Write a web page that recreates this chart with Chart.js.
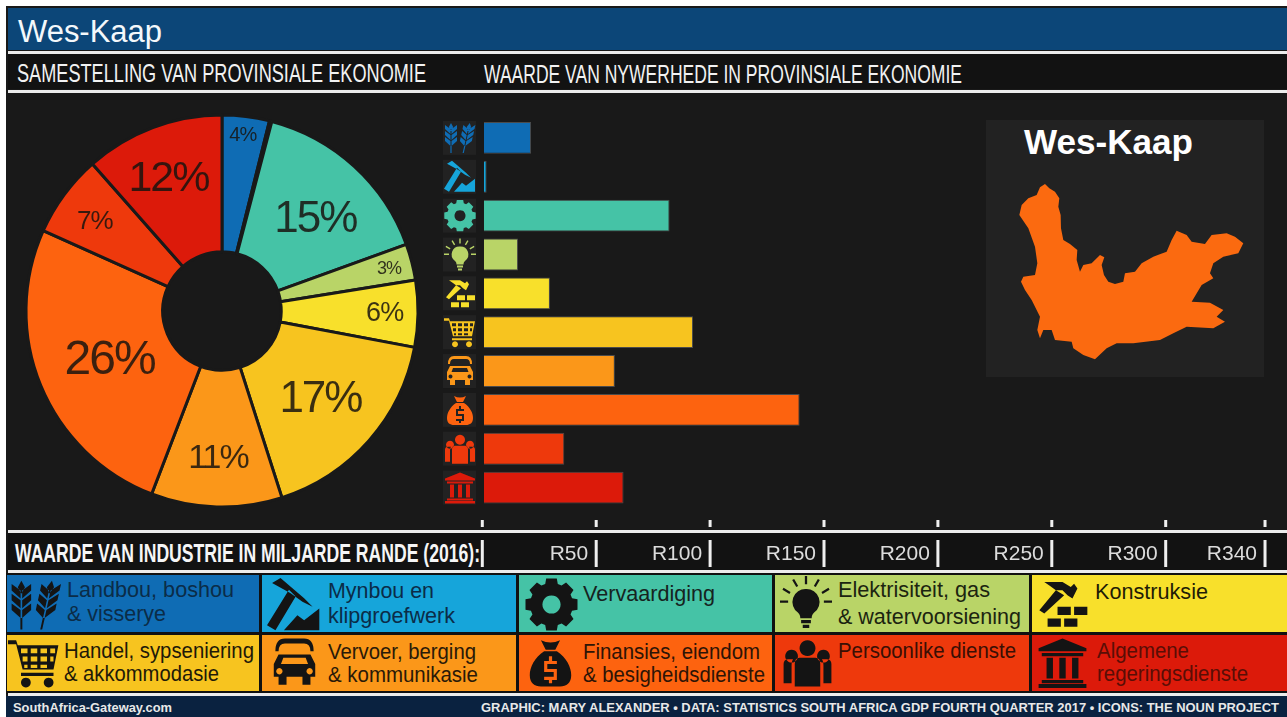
<!DOCTYPE html>
<html>
<head>
<meta charset="utf-8">
<title>Wes-Kaap</title>
<script src="https://cdn.jsdelivr.net/npm/chart.js@4"></script>
<style>
html, body { margin: 0; padding: 0; background: #fff; overflow: hidden; }
#page { position: relative; width: 1287px; height: 717px; }
#bg, #pie, #bars { position: absolute; }
#bg { left: 0; top: 0; }
#pie { left: 22px; top: 111px; }
#bars { left: 430px; top: 100px; }
</style>
</head>
<body>
<div id="page">
	<svg id="bg" width="1287" height="717" xmlns="http://www.w3.org/2000/svg"></svg>
	<canvas id="pie" width="400" height="400"></canvas>
	<canvas id="bars" width="857" height="475"></canvas>
</div>
<script>
// values
var industries = ['Landbou, boshou & visserye', 'Mynbou en klipgroefwerk', 'Vervaardiging', 'Elektrisiteit, gas & watervoorsiening', 'Konstruksie', 'Handel, sypseniering & akkommodasie', 'Vervoer, berging & kommunikasie', 'Finansies, eiendom & besigheidsdienste', 'Persoonlike dienste', 'Algemene regeringsdienste'];
var randBillions = [21.4, 1.9, 82.2, 15.7, 29.7, 92.5, 58.2, 139.3, 36, 62];
var sharePercent = [3.9, 0.2, 15.4, 3.0, 5.5, 17.1, 10.8, 25.9, 6.8, 11.5];
var shareLabels = ['4%', '', '15%', '3%', '6%', '17%', '11%', '26%', '7%', '12%'];
var tickValues = [0, 50, 100, 150, 200, 250, 300, 343.6];
var tickLabels = ['', 'R50', 'R100', 'R150', 'R200', 'R250', 'R300', 'R340'];
var colors = ['#0f6cb4', '#16a5da', '#45c3a6', '#b9d467', '#f8e02b', '#f7c41f', '#fb9719', '#fd630f', '#ee390c', '#dc1a0a'];

// pie label look, by slice
var labelSizes = [20, 0, 44, 18, 27, 44, 34, 48, 26, 43];
var labelRadius = [0.91, 0, 0.69, 0.88, 0.84, 0.67, 0.74, 0.62, 0.80, 0.73];
var labelNudge = [[-1, 2], [0, 0], [2, 9], [0, 1], [-2, 0], [0, 2], [0, 3], [0, 3], [-1, 4], [-3, 2]];

function stalk(dx, lean) {
	var d = '', i, y;
	function p(x, yy) { return (dx + x + lean * (32 - yy)).toFixed(1) + ' ' + yy; }
	d += 'M' + p(0, 1) + 'L' + p(2.2, 5) + 'L' + p(0, 9) + 'L' + p(-2.2, 5) + 'Z';
	for (i = 0; i < 3; i++) {
		y = 6 + i * 6;
		d += 'M' + p(-0.5, y + 6) + 'L' + p(-6, y + 1) + 'L' + p(-6, y - 3) + 'L' + p(-0.5, y + 1) + 'Z';
		d += 'M' + p(0.5, y + 6) + 'L' + p(6, y + 1) + 'L' + p(6, y - 3) + 'L' + p(0.5, y + 1) + 'Z';
	}
	d += 'M' + p(-0.6, 24) + 'L' + p(0.6, 24) + 'L' + p(0.6, 31) + 'L' + p(-0.6, 31) + 'Z';
	return d;
}

function gear() {
	var d = '', i, a, r, pts = [[-0.30, 11.5], [-0.20, 16], [0.20, 16], [0.30, 11.5]];
	for (i = 0; i < 8; i++) {
		pts.forEach(function(q, j) {
			a = i * Math.PI / 4 + q[0];
			r = q[1] + (q[1] > 12 ? 0 : 1.5);
			d += (i === 0 && j === 0 ? 'M' : 'L') + (16 + r * Math.sin(a)).toFixed(1) + ' ' + (16 - r * Math.cos(a)).toFixed(1);
		});
	}
	return d + 'Z M16 10.5a5.5 5.5 0 1 0 .01 0z';
}

var icons = [
	stalk(7, 0) + stalk(19, 0.22),
	'M3 3L8 0L22 12L27 17L21 14L14 9Z M13 7L17 11L5 31L0 28Z M10 31L18 22L22 25L31 18V31Z',
	gear(),
	'M16 8a8 8 0 0 1 5 14.5c-1 1-1.5 2-1.5 3.5h-7c0-1.5-.5-2.5-1.5-3.5A8 8 0 0 1 16 8z M13 27h6v2h-6z M14 30h4v2h-4z M15.3 0h1.4v5h-1.4z M7.5 2.5l1.2-.7 2.5 4.3-1.2.7z M23.3 1.8l1.2.7-2.5 4.3-1.2-.7z M1.5 8.5l.7-1.2 4.3 2.5-.7 1.2z M29.8 7.3l.7 1.2-4.3 2.5-.7-1.2z M0 15h5v1.4H0z M27 15h5v1.4h-5z',
	'M5 3h11l5 3 2-2 2 3-3 6-3-2-3-3-4 0Q8 5 5 3z M12 8l5 3L5 22l-3-2z M13 18h8v5h-8z M23 18h8v5h-8z M7 25h8v5H7z M17 25h8v5h-8z',
	'M0 2h5l1 3h25l-3 15H9L5 4.5H0z M8 7h4v3H8z M14 7h4v3h-4z M20 7h4v3h-4z M26 7h3v3h-3z M9 12h3v3H9z M14 12h4v3h-4z M20 12h4v3h-4z M26 12h2v3h-2z M10 17h2v2h-2z M14 17h4v2h-4z M20 17h4v2h-4z M8 22h20v2H8z M11 25a3 3 0 1 0 .01 0z M25 25a3 3 0 1 0 .01 0z',
	'M4 9Q4 1 10 1h12q6 0 6 8H26Q26 4 22 4H10Q6 4 6 9z M6 11h20l3 6v8h-3v5h-5v-5H11v5H6v-5H3v-8z M9 13h14l1.5 4h-17z M6.5 19.5a2 2 0 1 0 .01 0z M25.5 19.5a2 2 0 1 0 .01 0z',
	'M10 2q6 3 12 0l-3 6h-6z M12 9h8c6 4 9 10 9 15 0 5-3 7-7 7H10c-4 0-7-2-7-7 0-5 3-11 9-15z M12 15h8v2h-6v3h6v7h-8v-2h6v-3h-6z M15 12h2v3h-2z M15 27h2v2h-2z',
	'M16 2a5 5 0 1 0 .01 0z M6 8a4 4 0 1 0 .01 0z M26 8a4 4 0 1 0 .01 0z M11 13h10q3 0 3 4v14H8V17q0-4 3-4z M1 17q0-3 3-3h3q-1 1-1 4v11H1z M31 17q0-3-3-3h-3q1 1 1 4v11h5z',
	'M16 1L31 7v2H1V7z M3 10h26v2H3z M6 13h4v13H6z M14 13h4v13h-4z M22 13h4v13h-4z M3 27h26v2H3z M1 29.5h30v2.5H1z'
];

var mapOutline = '240,262 255,252 268,265 285,275 298,295 295,320 302,345 303,385 310,420 330,432 352,450 350,480 360,515 370,495 395,490 420,465 433,472 425,495 432,525 445,545 465,552 490,545 495,520 525,515 545,490 580,470 620,455 635,420 650,392 680,405 695,425 735,432 755,405 800,400 825,410 850,430 835,460 790,470 760,490 750,520 760,535 725,555 695,605 750,608 790,630 770,650 795,665 760,685 680,680 640,700 600,720 520,730 470,730 440,745 405,778 370,765 340,745 335,725 285,720 275,690 250,690 240,715 232,690 240,650 215,600 195,570 183,545 190,530 225,525 232,490 225,440 205,385 178,345 185,315 205,295 230,285';

// legend tiles: x, y, w, h, icon x, icon y, icon size, text colour
var tiles = [
	[7, 575, 252, 57, 10, 579, 52, '#0b2c48'], [262, 575, 254, 57, 267, 578, 54, '#0b2c48'], [519, 575, 253, 57, 525, 578, 53, '#16231f'],
	[775, 575, 254, 57, 780, 576, 52, '#1c2410'], [1032, 575, 255, 57, 1036, 577, 53, '#1f1c06'],
	[7, 635, 252, 56, 8, 637, 52, '#1f1a08'], [262, 635, 254, 56, 269, 637, 51, '#2a1a08'], [519, 635, 253, 56, 525, 637, 51, '#2e1406'],
	[775, 635, 254, 56, 782, 637, 51, '#3a0f04'], [1032, 635, 255, 56, 1037, 637, 51, '#5a0e06']
];
// tile text: tile, x, baseline, width, line
var tileText = [
	[0, 67, 597, 167, 'Landbou, boshou'], [0, 67, 621, 99, '& visserye'],
	[1, 328, 598, 106, 'Mynbou en'], [1, 328, 623, 127, 'klipgroefwerk'],
	[2, 583, 601, 132, 'Vervaardiging'],
	[3, 838, 597, 152, 'Elektrisiteit, gas'], [3, 838, 624, 183, '& watervoorsiening'],
	[4, 1095, 599, 113, 'Konstruksie'],
	[5, 64, 658, 190, 'Handel, sypseniering'], [5, 64, 681, 155, '& akkommodasie'],
	[6, 328, 659, 148, 'Vervoer, berging'], [6, 328, 682, 150, '& kommunikasie'],
	[7, 583, 659, 177, 'Finansies, eiendom'], [7, 583, 682, 182, '& besigheidsdienste'],
	[8, 838, 658, 178, 'Persoonlike dienste'],
	[9, 1097, 658, 92, 'Algemene'], [9, 1097, 681, 151, 'regeringsdienste']
];

var NS = 'http://www.w3.org/2000/svg';
var bg = document.getElementById('bg');

function add(tag, attrs, text, parent) {
	var el = document.createElementNS(NS, tag);
	for (var k in attrs) { el.setAttribute(k, attrs[k]); }
	if (text) { el.textContent = text; }
	(parent || bg).appendChild(el);
	return el;
}
function rect(x, y, w, h, fill) { add('rect', {x: x, y: y, width: w, height: h, fill: fill}); }
function label(x, y, w, size, fill, weight, text) {
	add('text', {x: x, y: y, textLength: w, lengthAdjust: 'spacingAndGlyphs', 'font-family': 'Liberation Sans', 'font-size': size, 'font-weight': weight || 'normal', fill: fill}, text);
}

rect(6, 6, 1281, 711, '#191919');
rect(8, 8, 1279, 42, '#0c4678');
rect(8, 51, 1279, 3, '#ececec');
rect(8, 54, 1279, 35, '#121212');
rect(8, 90, 1279, 3, '#ececec');
rect(8, 530, 1279, 3, '#ececec');
rect(8, 533, 1279, 37, '#121212');
rect(8, 570, 1279, 3, '#ececec');
rect(6, 573, 1281, 121, '#111');
rect(8, 693, 1279, 3, '#ececec');
rect(6, 696, 1281, 21, '#0a2240');

label(18, 42, 144, 31, '#f4f8fb', 'normal', 'Wes-Kaap');
label(17, 82, 409, 25, '#f2f2f2', 'normal', 'SAMESTELLING VAN PROVINSIALE EKONOMIE');
label(484, 83, 478, 25, '#f2f2f2', 'normal', 'WAARDE VAN NYWERHEDE IN PROVINSIALE EKONOMIE');
label(15, 562, 465, 25, '#f6f6f6', 'bold', 'WAARDE VAN INDUSTRIE IN MILJARDE RANDE (2016):');
label(13, 712, 159, 12.5, '#e8e8e8', 'bold', 'SouthAfrica-Gateway.com');
label(481, 712, 798, 12.5, '#e8e8e8', 'bold', 'GRAPHIC: MARY ALEXANDER \u2022 DATA: STATISTICS SOUTH AFRICA GDP FOURTH QUARTER 2017 \u2022 ICONS: THE NOUN PROJECT');

// inset with the province
rect(986, 120, 278, 257, '#222222');
label(1024, 154, 169, 35, '#ffffff', 'bold', 'Wes-Kaap');
var mapGroup = add('g', {transform: 'translate(960 100) scale(0.3333)'});
add('polygon', {points: mapOutline, fill: '#fb6a10'}, null, mapGroup);

// legend
tiles.forEach(function(t, i) {
	rect(t[0], t[1], t[2], t[3], colors[i]);
	var g = add('g', {transform: 'translate(' + t[4] + ' ' + t[5] + ') scale(' + t[6] / 32 + ')'});
	add('path', {d: icons[i], fill: '#141414', 'fill-rule': 'evenodd'}, null, g);
});
tileText.forEach(function(t) {
	label(t[1], t[2], t[3], 21.5, tiles[t[0]][7], 'normal', t[4]);
});

// icons left of the rows and the double tick marks along the value axis
var barDecor = {
	id: 'barDecor',
	afterDraw: function(chart) {
		var ctx = chart.ctx, x = chart.scales.x, y = chart.scales.y;
		ctx.save();
		y.ticks.forEach(function(t, i) {
			var py = y.getPixelForTick(i);
			ctx.fillStyle = '#222222';
			ctx.fillRect(13, py - 17, 33, 34);
			ctx.save();
			ctx.translate(14, py - 16);
			ctx.fillStyle = colors[i];
			ctx.fill(new Path2D(icons[i]), 'evenodd');
			ctx.restore();
		});
		ctx.fillStyle = '#efefef';
		x.ticks.forEach(function(t, i) {
			var px = x.getPixelForTick(i);
			ctx.fillRect(px - 1.5, 420, 3, 7);
			ctx.fillRect(px - 1.5, 440, 3, 27);
		});
		ctx.restore();
	}
};

var pieLabels = {
	id: 'pieLabels',
	afterDatasetsDraw: function(chart) {
		var ctx = chart.ctx;
		ctx.save();
		ctx.textAlign = 'center';
		ctx.textBaseline = 'middle';
		ctx.fillStyle = 'rgba(25,20,15,0.85)';
		chart.getDatasetMeta(0).data.forEach(function(arc, i) {
			if (!shareLabels[i]) { return; }
			var mid = (arc.startAngle + arc.endAngle) / 2;
			var r = labelRadius[i] * arc.outerRadius;
			ctx.font = labelSizes[i] + 'px "Liberation Sans"';
			ctx.letterSpacing = (labelSizes[i] > 30 ? -2 : -1) + 'px';
			ctx.fillText(shareLabels[i], arc.x + r * Math.cos(mid) + labelNudge[i][0], arc.y + r * Math.sin(mid) + labelNudge[i][1]);
		});
		ctx.restore();
	}
};

new Chart(document.getElementById('pie'), {
	type: 'doughnut',
	data: {
		labels: industries,
		datasets: [{
			data: sharePercent,
			backgroundColor: colors,
			borderColor: '#191919',
			borderWidth: 3,
			borderAlign: 'center'
		}]
	},
	options: {
		responsive: false,
		animation: false,
		radius: 196,
		cutout: 60,
		plugins: { legend: { display: false }, tooltip: { enabled: false } }
	},
	plugins: [pieLabels]
});

new Chart(document.getElementById('bars'), {
	type: 'bar',
	data: {
		labels: industries,
		datasets: [{
			data: randBillions,
			base: 0.7,
			backgroundColor: colors,
			borderColor: 'rgba(255,255,255,0.22)',
			borderWidth: 1,
			categoryPercentage: 1,
			barPercentage: 0.82
		}]
	},
	options: {
		indexAxis: 'y',
		responsive: false,
		animation: false,
		layout: { padding: { left: 52.3, top: 18.5, right: 7.4 } },
		scales: {
			x: {
				type: 'linear',
				min: 0,
				max: 350,
				border: { display: false },
				grid: { display: false },
				afterBuildTicks: function(scale) {
					scale.ticks = tickValues.map(function(v) { return { value: v }; });
				},
				afterFit: function(scale) {
					scale.height = 68;
					scale.paddingLeft = 0;
					scale.paddingRight = 0;
				},
				ticks: {
					autoSkip: false,
					maxRotation: 0,
					align: 'end',
					labelOffset: -8,
					padding: 27,
					color: '#dcdcdc',
					font: { family: 'Liberation Sans', size: 21 },
					callback: function(v, i) { return tickLabels[i]; }
				}
			},
			y: {
				display: false
			}
		},
		plugins: { legend: { display: false }, tooltip: { enabled: false } }
	},
	plugins: [barDecor]
});
</script>
</body>
</html>
